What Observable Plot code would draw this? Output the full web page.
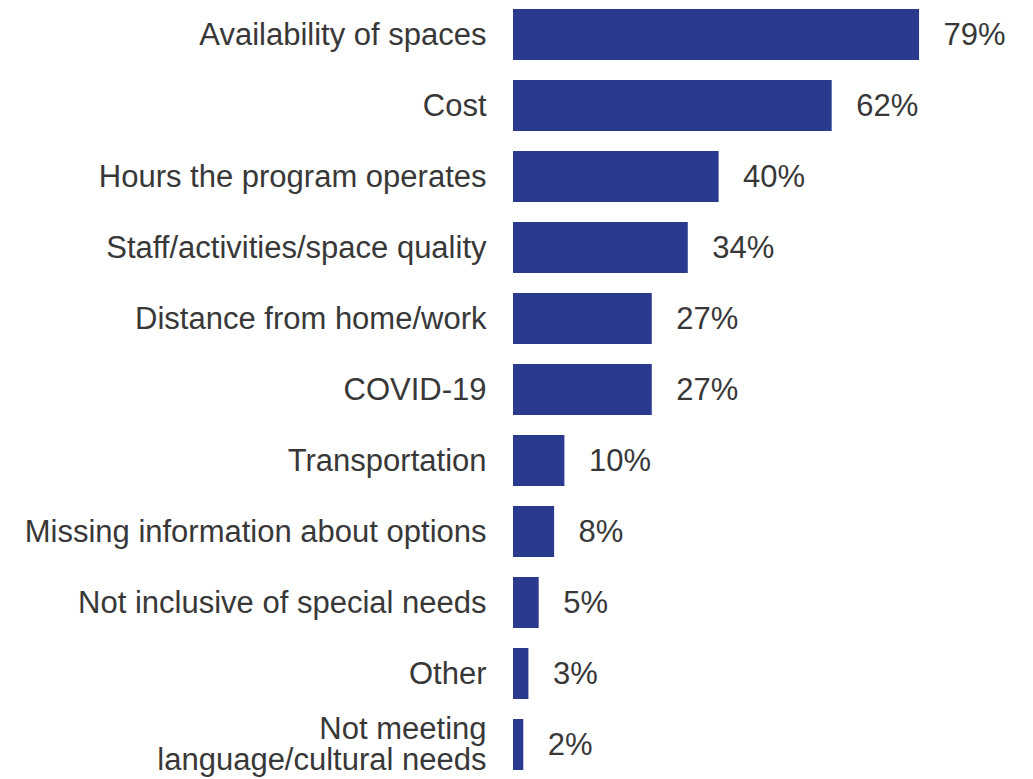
<!DOCTYPE html>
<html>
<head>
<meta charset="utf-8">
<script src="https://cdn.jsdelivr.net/npm/d3@7"></script>
<script src="https://cdn.jsdelivr.net/npm/@observablehq/plot@0.6"></script>
<style>
  html, body { margin: 0; padding: 0; background: #ffffff; }
  #chart svg { display: block; }
</style>
</head>
<body>
<div id="chart"></div>
<script>
const categories = [
  "Availability of spaces",
  "Cost",
  "Hours the program operates",
  "Staff/activities/space quality",
  "Distance from home/work",
  "COVID-19",
  "Transportation",
  "Missing information about options",
  "Not inclusive of special needs",
  "Other",
  "Not meeting\nlanguage/cultural needs"
];
const values = [79, 62, 40, 34, 27, 27, 10, 8, 5, 3, 2];

const data = categories.map((c, i) => ({category: c, value: values[i]}));

const chart = Plot.plot({
  width: 1033,
  height: 779,
  marginLeft: 513,
  marginRight: 6,
  marginTop: 0,
  marginBottom: 0,
  style: {fontFamily: "'Liberation Sans', Arial, sans-serif", background: "#ffffff"},
  x: {domain: [0, 100], range: [513, 1027], axis: null},
  y: {domain: categories, range: [-3.2, 781.7], paddingInner: 0.28, paddingOuter: 0.14, axis: null},
  marks: [
    Plot.barX(data, {x: "value", y: "category", fill: "#2a3a8f"}),
    Plot.text(data, {
      x: 0, y: "category", text: "category",
      textAnchor: "end", dx: -27, fontSize: 31, fill: "#383838", lineAnchor: "middle"
    }),
    Plot.text(data, {
      x: "value", y: "category", text: d => d.value + "%",
      textAnchor: "start", dx: 24, fontSize: 31, fill: "#383838"
    })
  ]
});
document.getElementById("chart").appendChild(chart);
</script>
</body>
</html>
